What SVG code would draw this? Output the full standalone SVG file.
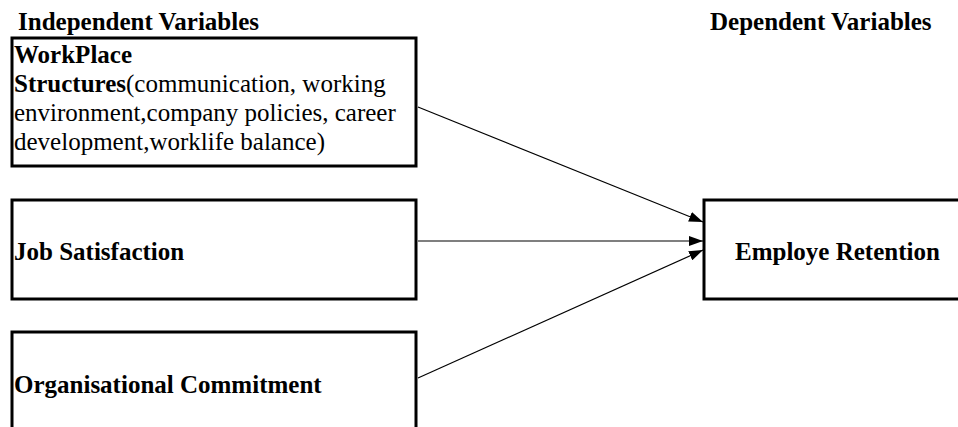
<svg xmlns="http://www.w3.org/2000/svg" width="958" height="427" viewBox="0 0 958 427">
  <style>
    .box { fill: #ffffff; stroke: #000000; stroke-width: 3; }
    .t { font-family: "Liberation Serif", "Times New Roman", serif; font-size: 25px; fill: #000000; }
    .b { font-weight: bold; }
    .edge { stroke: #000000; stroke-width: 1.2; fill: none; marker-end: url(#arrow); }
  </style>
  <defs>
    <marker id="arrow" viewBox="0 0 14 10" refX="14" refY="5" markerWidth="14" markerHeight="10" markerUnits="userSpaceOnUse" orient="auto">
      <path d="M0,0 L14,5 L0,10 Z" fill="#000000"/>
    </marker>
  </defs>

  <rect width="958" height="427" fill="#ffffff"/>

  <!-- column headings -->
  <text class="t b" x="18" y="30">Independent Variables</text>
  <text class="t b" x="710" y="30">Dependent Variables</text>

  <g id="workplace">
    <rect class="box" x="12" y="38" width="404" height="128"/>
    <text class="t" x="14" y="63"><tspan class="b">WorkPlace</tspan></text>
    <text class="t" x="14" y="92"><tspan class="b">Structures</tspan>(communication, working</text>
    <text class="t" x="14" y="121">environment,company policies, career</text>
    <text class="t" x="14" y="150">development,worklife balance)</text>
  </g>

  <g id="job-satisfaction">
    <rect class="box" x="12" y="200" width="404" height="99"/>
    <text class="t b" x="14" y="260">Job Satisfaction</text>
  </g>

  <g id="organisational-commitment">
    <rect class="box" x="12" y="332" width="404" height="120"/>
    <text class="t b" x="14" y="393">Organisational Commitment</text>
  </g>

  <g id="employe-retention">
    <rect class="box" x="704" y="200" width="270" height="99"/>
    <text class="t b" x="735" y="260">Employe Retention</text>
  </g>

  <g id="connectors">
    <line class="edge" x1="418" y1="107" x2="703" y2="222"/>
    <line class="edge" x1="418" y1="241" x2="703" y2="241"/>
    <line class="edge" x1="418" y1="378" x2="703" y2="250"/>
  </g>
</svg>
